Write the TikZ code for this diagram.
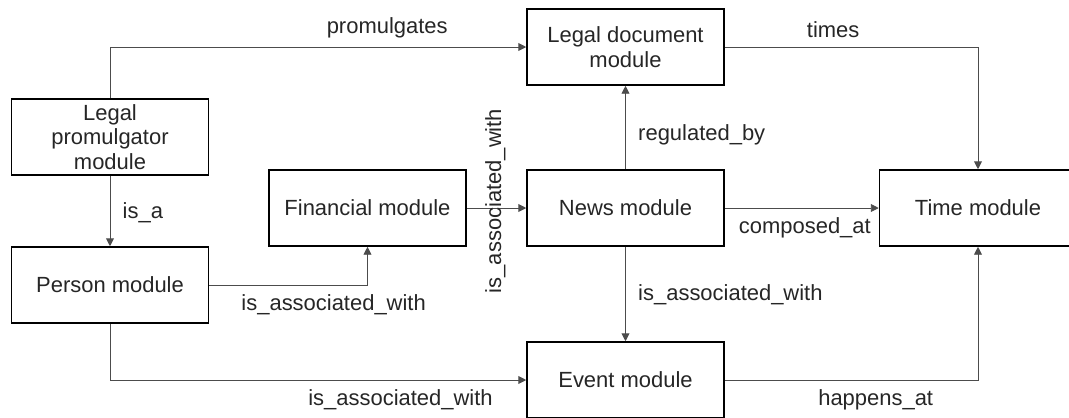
\documentclass[tikz,border=0pt]{standalone}
\usepackage{fontspec}
\setmainfont{Liberation Sans}
\usetikzlibrary{positioning, arrows.meta}

\begin{document}
\begin{tikzpicture}[
    x=0.02cm, y=-0.02cm,
    module/.style={rectangle, draw, line width=0.9pt, minimum width=3.94cm, minimum height=1.52cm, inner sep=0pt, align=center, font=\fontsize{12.5}{14}\selectfont, text=black!85},
    line/.style={draw=black!70, line width=0.5pt, -{Triangle[length=4.5pt, width=4.5pt]}},
    rel/.style={font=\fontsize{12.5}{14}\selectfont, text=black!85, inner sep=2pt}
]
    \clip (0,0) rectangle (1069,417);

    % Modules
    \node[module] (prom) at (110,137) {Legal\\promulgator\\module};
    \node[module] (person) at (110,285) {Person module};
    \node[module] (fin) at (367.5,208) {Financial module};
    \node[module] (legal) at (625.5,47) {Legal document\\module};
    \node[module] (news) at (625.5,208) {News module};
    \node[module] (event) at (625.5,380) {Event module};
    \node[module] (time) at (978,208) {Time module};

    % Relations
    \draw[line] (prom.north) |- (legal.west) node[rel, pos=0.833, above=3pt] {promulgates};
    \draw[line] (legal.east) -| (time.north) node[rel, pos=0.214, above=3pt] {times};
    \draw[line] (news.north) -- (legal.south) node[rel, pos=0.41, right=5pt] {regulated\_by};
    \draw[line] (news.east) -- (time.west) node[rel, pos=0.52, below=3pt] {composed\_at};
    \draw[line] (news.south) -- (event.north) node[rel, pos=0.51, right=5pt] {is\_associated\_with};
    \draw[line] (event.east) -| (time.south) node[rel, pos=0.298, below=3pt] {happens\_at};

    \draw[line] (prom.south) -- (person.north) node[rel, pos=0.53, right=5pt] {is\_a};
    \draw[line] (person.east) -| (fin.south) node[rel, pos=0.393, below=3pt] {is\_associated\_with};
    \draw[line] (person.south) |- (event.west) node[rel, pos=0.849, below=3pt] {is\_associated\_with};
    \draw[line] (fin.east) -- (news.west) node[rel, pos=0.48, yshift=0.14cm, rotate=90] {is\_associated\_with};

\end{tikzpicture}
\end{document}
